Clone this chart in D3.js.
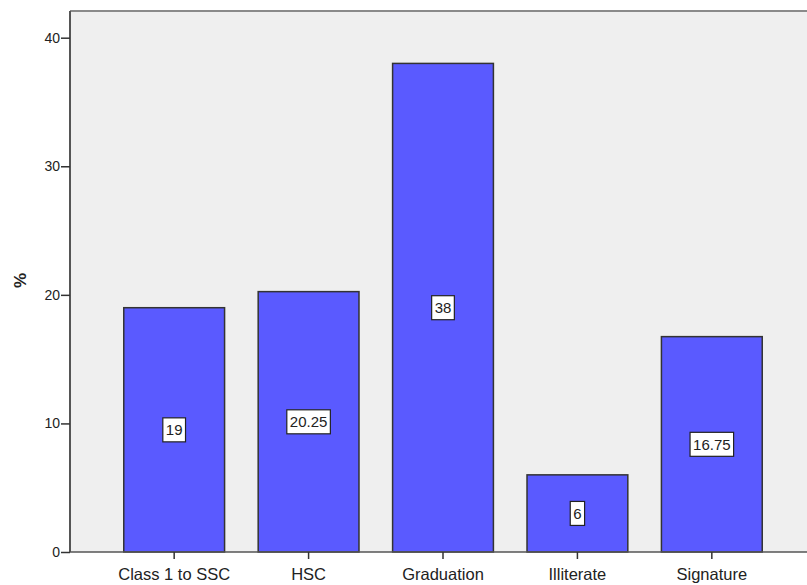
<!DOCTYPE html>
<html>
<head>
<meta charset="utf-8">
<script src="https://cdn.jsdelivr.net/npm/d3@7"></script>
<style>
  body { margin: 0; background: #fff; }
  svg text { font-family: "Liberation Sans", Arial, sans-serif; }
</style>
</head>
<body>
<div id="chart"></div>
<script>
const categories = ["Class 1 to SSC", "HSC", "Graduation", "Illiterate", "Signature"]
const percents = [19, 20.25, 38, 6, 16.75]
const yTicks = [0, 10, 20, 30, 40]

const totalWidth = 807
const totalHeight = 585
const plot = { left: 70, top: 11, right: 816, bottom: 552 }

const svg = d3.select("#chart")
    .append("svg")
    .attr("width", totalWidth)
    .attr("height", totalHeight)

const x = d3.scaleBand()
    .domain(categories)
    .range([plot.left, plot.right])
    .paddingInner(0.25)
    .paddingOuter(0.4)

const y = d3.scaleLinear()
    .domain([0, 40])
    .range([plot.bottom, 37.7])

// plot background
svg.append("rect")
    .attr("x", plot.left)
    .attr("y", plot.top)
    .attr("width", plot.right - plot.left)
    .attr("height", plot.bottom - plot.top)
    .attr("fill", "#efefef")

svg.append("line")
    .attr("x1", plot.left).attr("x2", plot.right)
    .attr("y1", plot.top).attr("y2", plot.top)
    .attr("stroke", "#8a8a8a")
    .attr("stroke-width", 2)

// bars
svg.selectAll("rect.bar")
    .data(categories)
    .enter()
    .append("rect")
    .attr("class", "bar")
    .attr("x", (d) => x(d))
    .attr("y", (d, i) => y(percents[i]))
    .attr("width", x.bandwidth())
    .attr("height", (d, i) => y(0) - y(percents[i]))
    .attr("fill", "#5a5aff")
    .attr("stroke", "#333")
    .attr("stroke-width", 1.5)

// axes
const yAxis = d3.axisLeft(y).tickValues(yTicks).tickSize(9).tickPadding(1)
const gy = svg.append("g")
    .attr("transform", `translate(${plot.left}, 0)`)
    .call(yAxis)
gy.select(".domain").attr("stroke", "#555").attr("stroke-width", 2)
    .attr("d", `M0,${plot.top}V${plot.bottom}`)
gy.selectAll(".tick line").attr("stroke", "#333").attr("stroke-width", 1.5)
gy.selectAll(".tick text").attr("font-size", 14).attr("fill", "#222")

const xAxis = d3.axisBottom(x).tickSize(7).tickPadding(9)
const gx = svg.append("g")
    .attr("transform", `translate(0, ${plot.bottom})`)
    .call(xAxis)
gx.select(".domain").attr("stroke", "#555").attr("stroke-width", 1.5)
    .attr("d", `M${plot.left},0H${plot.right}`)
gx.selectAll(".tick line").attr("stroke", "#333").attr("stroke-width", 1.5)
gx.selectAll(".tick text").attr("font-size", 16.5).attr("fill", "#222")

svg.append("text")
    .attr("transform", `translate(26, 280.5) rotate(-90)`)
    .attr("text-anchor", "middle")
    .attr("font-size", 17)
    .attr("font-weight", "bold")
    .attr("fill", "#222")
    .text("%")

// value labels
const labels = svg.selectAll("g.lbl")
    .data(categories)
    .enter()
    .append("g")
    .attr("class", "lbl")
    .attr("transform", (d, i) =>
        `translate(${x(d) + x.bandwidth() / 2}, ${(y(percents[i]) + y(0)) / 2})`)

labels.append("text")
    .attr("text-anchor", "middle")
    .attr("dy", "0.36em")
    .attr("font-size", 15)
    .attr("fill", "#222")
    .text((d, i) => percents[i])

labels.each(function () {
    const g = d3.select(this)
    const bb = g.select("text").node().getBBox()
    g.insert("rect", "text")
        .attr("x", bb.x - 3)
        .attr("y", -12)
        .attr("width", bb.width + 6)
        .attr("height", 24)
        .attr("fill", "#fff")
        .attr("stroke", "#222")
        .attr("stroke-width", 1.2)
})
</script>
</body>
</html>
